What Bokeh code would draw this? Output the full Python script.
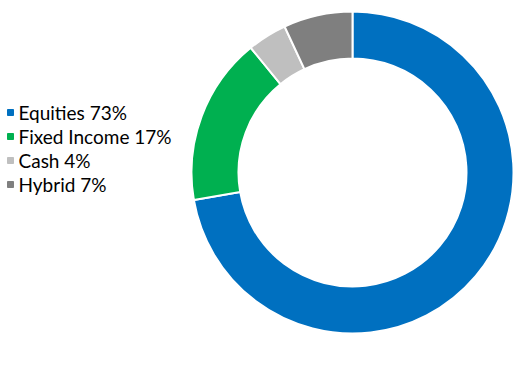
import numpy as np
from bokeh.plotting import figure
from bokeh.models import ColumnDataSource, Range1d
from bokeh.core.properties import value
from bokeh.embed import file_html
from bokeh.resources import INLINE

categories = ["Equities", "Fixed Income", "Cash", "Hybrid"]
values = [73, 17, 4, 7]
colors = ["#0070C0", "#00B050", "#BFBFBF", "#7F7F7F"]

W, H = 516, 375
p = figure(width=W, height=H, output_backend="svg", toolbar_location=None,
           x_range=Range1d(0, W), y_range=Range1d(0, H), min_border=0)
p.axis.visible = False
p.grid.visible = False
p.outline_line_color = None

vals = np.array(values, dtype=float)
frac = vals / vals.sum()
ends = np.pi / 2 - 2 * np.pi * np.cumsum(frac)
starts = np.concatenate([[np.pi / 2], ends[:-1]])
src = ColumnDataSource(dict(start=starts, end=ends, color=colors))
p.annular_wedge(x=352, y=H - 172, inner_radius=114, outer_radius=161,
                inner_radius_units="screen", outer_radius_units="screen",
                start_angle="start", end_angle="end", direction="clock",
                fill_color="color", line_color="white", line_width=2, source=src)

labels = [f"{c} {v}%" for c, v in zip(categories, values)]
ly = [H - 112 - 24 * i for i in range(len(categories))]
lsrc = ColumnDataSource(dict(y=ly, label=labels, color=colors))
p.scatter(x=10, y="y", marker="square", size=6, fill_color="color", line_color="color", source=lsrc)
p.text(x=18, y="y", text="label", text_font=value("Lato"), text_font_size="19px",
       text_baseline="middle", text_color="#000000", source=lsrc)

open("out.html", "w").write(file_html(p, INLINE))
